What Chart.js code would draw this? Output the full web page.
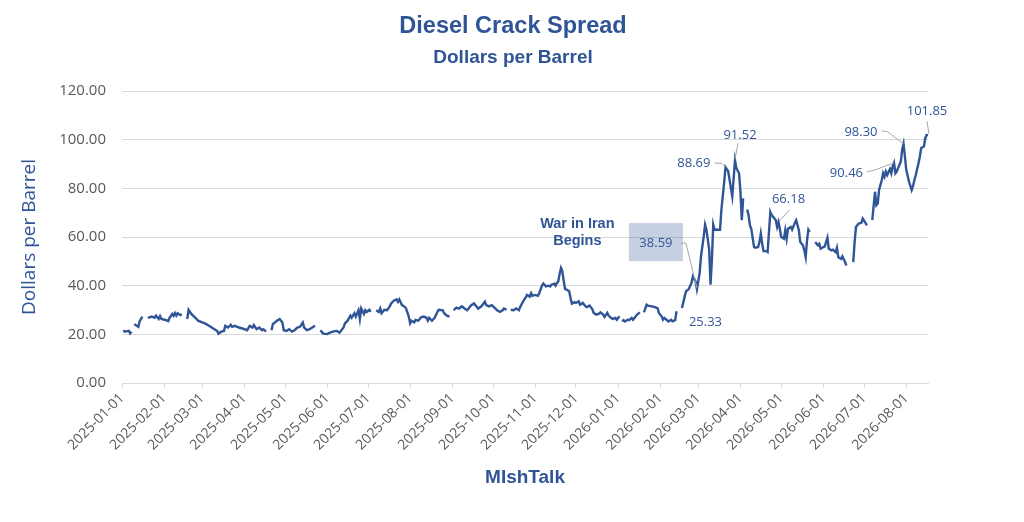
<!DOCTYPE html>
<html>
<head>
<meta charset="utf-8">
<script src="https://cdn.jsdelivr.net/npm/chart.js@4.4.1/dist/chart.umd.min.js"></script>
<style>
html,body{margin:0;padding:0;background:#ffffff;}
#wrap{width:1024px;height:522px;position:relative;}
</style>
</head>
<body>
<div id="wrap"><canvas id="c" width="1024" height="522"></canvas></div>
<script>
// ---------- DATA ----------
const dates = [
'2025-01-02','2025-01-03','2025-01-06','2025-01-07','2025-01-08','2025-01-09','2025-01-10','2025-01-11','2025-01-13','2025-01-14','2025-01-16','2025-01-18',
'2025-01-20','2025-01-23','2025-01-25','2025-01-26','2025-01-28','2025-01-29','2025-01-30','2025-02-02','2025-02-04','2025-02-05','2025-02-07','2025-02-08',
'2025-02-09','2025-02-10','2025-02-11','2025-02-13','2025-02-14','2025-02-16','2025-02-18','2025-02-19','2025-02-21','2025-02-24','2025-02-26','2025-03-01',
'2025-03-03','2025-03-06','2025-03-08','2025-03-10','2025-03-12','2025-03-13','2025-03-15','2025-03-17','2025-03-18','2025-03-20','2025-03-22','2025-03-23',
'2025-03-25','2025-03-28','2025-03-30','2025-04-01','2025-04-03','2025-04-05','2025-04-07','2025-04-08','2025-04-10','2025-04-12','2025-04-14','2025-04-15',
'2025-04-17','2025-04-19','2025-04-21','2025-04-22','2025-04-25','2025-04-27','2025-04-29','2025-04-30','2025-05-02','2025-05-04','2025-05-06','2025-05-08',
'2025-05-10','2025-05-12','2025-05-14','2025-05-15','2025-05-17','2025-05-19','2025-05-21','2025-05-23','2025-05-25','2025-05-27','2025-05-29','2025-06-01',
'2025-06-03','2025-06-05','2025-06-08','2025-06-10','2025-06-12','2025-06-13','2025-06-14','2025-06-16','2025-06-18','2025-06-19','2025-06-21','2025-06-22',
'2025-06-24','2025-06-25','2025-06-26','2025-06-28','2025-06-29','2025-06-30','2025-07-02','2025-07-03','2025-07-05','2025-07-07','2025-07-09','2025-07-10',
'2025-07-11','2025-07-13','2025-07-15','2025-07-17','2025-07-18','2025-07-20','2025-07-22','2025-07-23','2025-07-24','2025-07-26','2025-07-28','2025-07-29',
'2025-07-31','2025-08-01','2025-08-02','2025-08-04','2025-08-05','2025-08-07','2025-08-09','2025-08-11','2025-08-13','2025-08-14','2025-08-15','2025-08-17',
'2025-08-19','2025-08-21','2025-08-22','2025-08-25','2025-08-26','2025-08-28','2025-08-30','2025-09-01','2025-09-02','2025-09-04','2025-09-06','2025-09-08',
'2025-09-10','2025-09-12','2025-09-14','2025-09-15','2025-09-17','2025-09-19','2025-09-20','2025-09-22','2025-09-23','2025-09-25','2025-09-26','2025-09-28',
'2025-09-30','2025-10-02','2025-10-04','2025-10-06','2025-10-08','2025-10-09','2025-10-11','2025-10-13','2025-10-14','2025-10-16','2025-10-18','2025-10-20',
'2025-10-21','2025-10-23','2025-10-25','2025-10-26','2025-10-28','2025-10-29','2025-10-30','2025-11-01','2025-11-03','2025-11-04','2025-11-06','2025-11-07',
'2025-11-09','2025-11-11','2025-11-12','2025-11-13','2025-11-15','2025-11-16','2025-11-17','2025-11-18','2025-11-19','2025-11-20','2025-11-21','2025-11-22',
'2025-11-23','2025-11-24','2025-11-26','2025-11-27','2025-11-28','2025-11-30','2025-12-01','2025-12-03','2025-12-04','2025-12-06','2025-12-08','2025-12-09',
'2025-12-11','2025-12-13','2025-12-14','2025-12-16','2025-12-18','2025-12-19','2025-12-21','2025-12-22','2025-12-24','2025-12-25','2025-12-27','2025-12-28',
'2025-12-30','2025-12-31','2026-01-02','2026-01-03','2026-01-04','2026-01-05','2026-01-06','2026-01-08','2026-01-09','2026-01-11','2026-01-12','2026-01-14',
'2026-01-15','2026-01-17','2026-01-19','2026-01-20','2026-01-22','2026-01-23','2026-01-26','2026-01-28','2026-01-30','2026-01-31','2026-02-02','2026-02-03',
'2026-02-04','2026-02-06','2026-02-07','2026-02-09','2026-02-10','2026-02-12','2026-02-13','2026-02-15','2026-02-17','2026-02-19','2026-02-20','2026-02-22',
'2026-02-24','2026-02-25','2026-02-27','2026-02-28','2026-03-02','2026-03-03','2026-03-05','2026-03-06','2026-03-07','2026-03-09','2026-03-10','2026-03-11',
'2026-03-12','2026-03-13','2026-03-15','2026-03-17','2026-03-18','2026-03-20','2026-03-21','2026-03-23','2026-03-25','2026-03-26','2026-03-28','2026-03-29',
'2026-03-31','2026-04-01','2026-04-02','2026-04-03','2026-04-05','2026-04-06','2026-04-07','2026-04-08','2026-04-09','2026-04-11','2026-04-12','2026-04-14',
'2026-04-15','2026-04-16','2026-04-17','2026-04-18','2026-04-20','2026-04-21','2026-04-23','2026-04-24','2026-04-26','2026-04-27','2026-04-28','2026-04-29',
'2026-04-30','2026-05-01','2026-05-03','2026-05-04','2026-05-05','2026-05-06','2026-05-08','2026-05-09','2026-05-11','2026-05-12','2026-05-14','2026-05-15',
'2026-05-17','2026-05-18','2026-05-19','2026-05-20','2026-05-21','2026-05-22','2026-05-24','2026-05-26','2026-05-28','2026-05-29','2026-05-30','2026-06-01',
'2026-06-02','2026-06-04','2026-06-05','2026-06-07','2026-06-08','2026-06-10','2026-06-11','2026-06-12','2026-06-14','2026-06-15','2026-06-17','2026-06-18',
'2026-06-21','2026-06-23','2026-06-24','2026-06-25','2026-06-27','2026-06-29','2026-06-30','2026-07-02','2026-07-03','2026-07-05','2026-07-07','2026-07-09',
'2026-07-10','2026-07-11','2026-07-12','2026-07-14','2026-07-15','2026-07-16','2026-07-17','2026-07-18','2026-07-20','2026-07-21','2026-07-22','2026-07-23',
'2026-07-24','2026-07-25','2026-07-26','2026-07-28','2026-07-29','2026-07-30','2026-07-31','2026-08-01','2026-08-03','2026-08-05','2026-08-06','2026-08-07',
'2026-08-08','2026-08-10','2026-08-11','2026-08-12','2026-08-14','2026-08-15','2026-08-16','2026-08-17'
];
const values = [
21.7,21.1,21.4,20.4,21.1,null,24.2,23.8,23.1,25.4,27.3,null,
26.8,27.3,26.8,27.7,26.3,27.5,26.3,25.9,25.4,26.8,28.4,27.6,
28.7,27.7,28.7,27.9,28.3,null,26.3,30.1,28.4,26.8,25.6,24.9,
24.5,23.5,22.8,22.1,21.4,20.3,21.1,21.4,23.5,22.8,23.9,23.1,
23.5,22.8,22.5,22.1,21.7,23.5,22.8,23.8,22.1,22.8,21.7,22.1,
21.1,null,21.7,24.2,25.6,26.3,24.9,21.7,21.4,22.1,21.1,21.7,
22.8,23.1,24.9,22.8,21.7,22.1,22.8,23.5,null,21.7,20.3,20.1,
20.7,21.1,21.4,20.7,22.1,22.8,24.5,25.6,27.7,26.8,28.7,27.3,
29.9,26.3,30.6,28.4,29.9,29.2,30.1,29.2,null,29.9,29.2,30.6,
28.7,30.1,29.9,31.5,32.7,33.8,34.4,33.4,34.4,32.0,31.3,30.6,
27.3,24.5,25.6,24.9,25.9,25.6,27.0,27.3,26.8,25.6,26.8,25.6,
26.8,29.2,30.1,29.9,28.7,27.7,27.3,null,29.9,31.0,30.6,31.5,
30.6,29.9,31.3,32.0,32.7,31.3,30.6,31.3,32.0,33.4,32.0,31.5,
32.0,31.0,29.9,29.2,29.9,30.6,30.1,null,30.1,29.9,30.6,29.9,
31.3,33.4,35.2,36.2,35.5,36.9,35.8,36.2,35.8,36.9,40.0,40.8,
39.7,40.0,39.7,40.4,40.8,40.0,41.1,41.8,44.9,47.3,45.9,41.8,
38.6,38.4,37.7,34.9,32.6,33.2,32.9,33.6,32.2,32.9,31.5,31.2,
31.8,30.4,28.8,28.1,28.5,29.0,28.1,27.1,28.8,27.7,26.7,26.3,
26.7,26.0,27.4,null,25.3,25.8,25.3,26.0,25.8,26.7,26.0,27.4,
28.1,29.0,null,29.0,32.2,31.8,31.5,31.2,30.8,28.8,27.4,26.0,
26.7,25.8,25.3,26.0,25.33,25.8,29.5,null,30.8,35.6,37.7,38.6,
41.1,43.8,41.8,38.59,45.2,52.1,60.3,65.1,63.0,54.8,40.4,50.7,
65.1,63.0,63.0,63.0,71.2,82.2,88.69,87.0,80.1,76.7,91.52,88.3,
86.2,78.6,66.9,75.9,null,71.3,69.0,64.8,63.4,55.9,55.6,55.9,
57.9,61.4,57.2,54.2,54.2,53.8,70.3,69.0,67.6,67.0,64.1,66.18,
63.4,60.0,59.3,62.8,59.3,63.4,64.1,63.0,65.8,66.9,62.8,57.9,
56.6,54.5,51.7,58.6,63.0,62.1,null,57.9,56.6,57.2,55.2,55.9,
56.1,59.7,55.2,54.5,54.8,53.8,55.6,51.7,51.0,52.0,49.7,48.3,
null,49.7,57.9,64.1,65.5,65.8,67.6,65.8,64.8,null,66.9,78.6,
73.1,73.8,79.3,83.4,86.2,84.8,86.9,85.5,87.9,86.2,89.0,90.46,
86.2,86.9,88.3,91.0,95.9,98.30,93.1,87.6,82.8,79.3,81.0,83.4,
85.5,90.3,93.1,96.6,97.2,100.7,101.9,101.85
];
const yTickValues = [0, 20, 40, 60, 80, 100, 120];
const monthTicks = ['2025-01-01','2025-02-01','2025-03-01','2025-04-01','2025-05-01','2025-06-01','2025-07-01',
  '2025-08-01','2025-09-01','2025-10-01','2025-11-01','2025-12-01','2026-01-01','2026-02-01','2026-03-01',
  '2026-04-01','2026-05-01','2026-06-01','2026-07-01','2026-08-01'];
const annoTexts  = ['88.69','91.52','38.59','25.33','66.18','90.46','98.30','101.85'];
const annoDates  = ['2026-03-21','2026-03-28','2026-02-28','2026-02-10','2026-04-29','2026-07-23','2026-07-30','2026-08-17'];
const annoValues = [88.69, 91.52, 38.59, 25.33, 66.18, 90.46, 98.30, 101.85];
const noteLines = ['War in Iran', 'Begins'];
const noteDate = '2025-12-02';
const noteValue = 65.3;

// ---------- LAYOUT / STYLE (not data) ----------
const annoLayout = [
  {dx:-15, dy:-4,  align:'right',  leader:[[-11,-4],[-4,-4],[0,0]]},
  {dx:5,   dy:-25, align:'center', leader:[[3,-17],[0,-1]]},
  {dx:-41, dy:-46, align:'center', leader:[[-16,-46],[-11,-46],[0,-1]], box:[-68,-66,54,38]},
  {dx:33,  dy:1,   align:'center'},
  {dx:10,  dy:-23, align:'center', leader:[[11,-12],[1,-1]]},
  {dx:-31, dy:10,  align:'right',  leader:[[-27,9],[-19,7],[0,0]]},
  {dx:-26, dy:-12, align:'right',  leader:[[-22,-13],[-16,-12],[0,0]]},
  {dx:-1,  dy:-24, align:'center', leader:[[-1,-14],[1,-1]]}
];
const BLUE = '#2F5597';
const toDay = s => Date.UTC(+s.slice(0,4), +s.slice(5,7)-1, +s.slice(8,10)) / 86400000;
const fromDay = d => new Date(Math.round(d) * 86400000).toISOString().slice(0,10);

const annoPlugin = {
  id: 'annoPlugin',
  beforeDatasetsDraw(chart) {
    const {ctx, scales:{x, y}} = chart;
    ctx.save();
    annoLayout.forEach((L, i) => {
      if (!L.box) return;
      const ax = x.getPixelForValue(toDay(annoDates[i]));
      const ay = y.getPixelForValue(annoValues[i]);
      ctx.fillStyle = 'rgba(47,85,151,0.28)';
      ctx.fillRect(ax + L.box[0], ay + L.box[1], L.box[2], L.box[3]);
    });
    ctx.restore();
  },
  afterDatasetsDraw(chart) {
    const {ctx, scales:{x, y}} = chart;
    ctx.save();
    annoTexts.forEach((t, i) => {
      const L = annoLayout[i];
      const ax = x.getPixelForValue(toDay(annoDates[i]));
      const ay = y.getPixelForValue(annoValues[i]);
      if (L.leader) {
        ctx.strokeStyle = '#A6A6A6';
        ctx.lineWidth = 1;
        ctx.beginPath();
        L.leader.forEach((p, k) => {
          if (k === 0) ctx.moveTo(ax + p[0], ay + p[1]); else ctx.lineTo(ax + p[0], ay + p[1]);
        });
        ctx.stroke();
      }
      ctx.fillStyle = BLUE;
      ctx.font = '13px "Open Sans"';
      ctx.textAlign = L.align;
      ctx.textBaseline = 'middle';
      ctx.fillText(t, ax + L.dx, ay + L.dy);
    });
    const nx = x.getPixelForValue(toDay(noteDate));
    const ny = y.getPixelForValue(noteValue);
    ctx.font = 'bold 14.5px "Liberation Sans"';
    ctx.textAlign = 'center';
    ctx.textBaseline = 'middle';
    ctx.fillStyle = BLUE;
    noteLines.forEach((s, k) => ctx.fillText(s, nx, ny + k * 17));
    ctx.restore();
  },
  afterDraw(chart) {
    const {ctx} = chart;
    ctx.save();
    ctx.fillStyle = BLUE;
    ctx.textAlign = 'center';
    ctx.textBaseline = 'middle';
    ctx.font = 'bold 23.5px "Liberation Sans"';
    ctx.fillText('Diesel Crack Spread', 513, 27);
    ctx.font = 'bold 19px "Liberation Sans"';
    ctx.fillText('Dollars per Barrel', 513, 58);
    ctx.restore();
  }
};

new Chart(document.getElementById('c'), {
  type: 'line',
  data: {
    datasets: [{
      label: 'Diesel Crack Spread',
      data: dates.map((d, i) => ({x: toDay(d), y: values[i]})),
      borderColor: BLUE,
      backgroundColor: BLUE,
      borderWidth: 2.4,
      pointRadius: 0,
      pointHoverRadius: 0,
      tension: 0,
      spanGaps: false,
      fill: false
    }]
  },
  options: {
    responsive: false,
    animation: false,
    events: [],
    layout: {padding: {left: 14, right: 96, top: 91, bottom: 29}},
    plugins: {legend: {display: false}, tooltip: {enabled: false}, title: {display: false}},
    scales: {
      x: {
        type: 'linear',
        min: toDay(monthTicks[0]),
        max: toDay(dates[dates.length - 1]),
        afterBuildTicks: s => { s.ticks = monthTicks.map(m => ({value: toDay(m)})); },
        afterFit: s => { s.height = 110; },
        ticks: {
          autoSkip: false, minRotation: 45, maxRotation: 45, padding: 2,
          color: '#595959', font: {family: 'Open Sans', size: 14},
          callback: v => fromDay(v)
        },
        grid: {drawOnChartArea: false, drawTicks: true, tickLength: 5, color: '#D9D9D9'},
        border: {display: true, color: '#D9D9D9'},
        title: {display: true, text: 'MIshTalk', color: BLUE, font: {family: 'Liberation Sans', size: 19, weight: 'bold'}}
      },
      y: {
        min: 0, max: 120,
        afterBuildTicks: s => { s.ticks = yTickValues.map(v => ({value: v})); },
        afterFit: s => { s.width = 108; },
        ticks: {padding: 16, color: '#595959', font: {family: 'Open Sans', size: 15}, callback: v => v.toFixed(2)},
        grid: {drawTicks: false, color: '#D9D9D9', lineWidth: 1},
        border: {display: false},
        title: {display: true, text: 'Dollars per Barrel', color: BLUE, font: {family: 'Open Sans', size: 19}}
      }
    }
  },
  plugins: [annoPlugin]
});
</script>
</body>
</html>
